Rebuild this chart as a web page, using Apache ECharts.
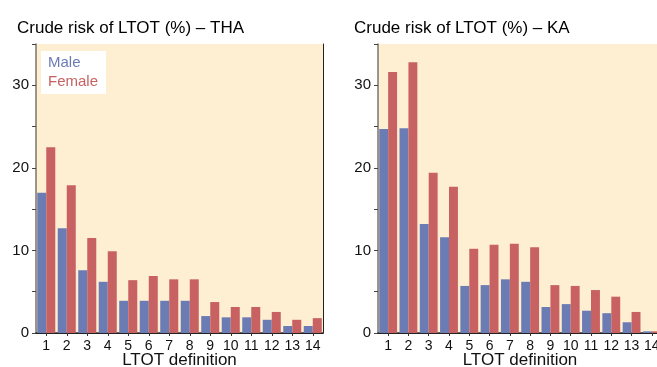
<!DOCTYPE html>
<html>
<head>
<meta charset="utf-8">
<script src="https://cdn.jsdelivr.net/npm/echarts@6/dist/echarts.min.js"></script>
<style>
html,body{margin:0;padding:0;background:#fff;}
#c{width:657px;height:367px;}
</style>
</head>
<body>
<div id="c"></div>
<script>
const categories = ['1','2','3','4','5','6','7','8','9','10','11','12','13','14'];
const thaMale   = [17, 12.7, 7.6, 6.2, 3.9, 3.9, 3.9, 3.9, 2.05, 1.9, 1.9, 1.6, 0.85, 0.85];
const thaFemale = [22.5, 17.9, 11.5, 9.9, 6.4, 6.9, 6.5, 6.5, 3.75, 3.15, 3.15, 2.55, 1.6, 1.8];
const kaMale    = [24.7, 24.8, 13.2, 11.6, 5.7, 5.8, 6.5, 6.2, 3.15, 3.5, 2.7, 2.4, 1.3, 0.2];
const kaFemale  = [31.6, 32.8, 19.4, 17.7, 10.2, 10.7, 10.8, 10.4, 5.8, 5.7, 5.2, 4.4, 2.55, 0.2];
const titles = ['Crude risk of LTOT (%) \u2013 THA', 'Crude risk of LTOT (%) \u2013 KA'];
const yTicks = [0, 10, 20, 30];

const MALE = '#6b7bb4', FEMALE = '#c86262', BG = '#feefd2';
const FONT = 'Liberation Sans, Arial, Helvetica, sans-serif';

const chart = echarts.init(document.getElementById('c'), null, {renderer:'canvas'});

const grids = [
  {left: 36, top: 44, width: 287, height: 289},
  {left: 378, top: 44, right: -5, height: 289}
];

function xAxisFor(i){
  return {
    type: 'category', gridIndex: i, data: categories,
    name: 'LTOT definition', nameLocation: 'middle', nameGap: 19, nameMoveOverlap: false,
    nameTextStyle: {fontFamily: FONT, fontSize: 17, color: '#111'},
    axisLine: {show: true, lineStyle: {color: '#333', width: 1.5}},
    axisTick: {show: true, alignWithLabel: true, length: 3, lineStyle: {color: '#333'}},
    axisLabel: {fontFamily: FONT, fontSize: 14, color: '#111', margin: 6, interval: 0},
    splitLine: {show: false}
  };
}
function xTopFor(i){
  return {type: 'category', gridIndex: i, data: categories, position: 'top',
    axisLine: {show: true, lineStyle: {color: '#222', width: 1}},
    axisTick: {show: false}, axisLabel: {show: false}, splitLine: {show: false}};
}
function yAxisFor(i){
  return {
    type: 'value', gridIndex: i, min: 0, max: 35, interval: 5,
    axisLine: {show: true, lineStyle: {color: '#7a7468', width: 1.5}},
    axisTick: {show: true, length: 4, lineStyle: {color: '#444'}},
    axisLabel: {fontFamily: FONT, fontSize: 15, color: '#111', margin: 7,
      formatter: v => yTicks.indexOf(v) >= 0 ? String(v) : ''},
    splitLine: {show: false}
  };
}
function yRightFor(i){
  return {type: 'value', gridIndex: i, min: 0, max: 35, interval: 5, position: 'right',
    axisLine: {show: true, lineStyle: {color: '#222', width: 1}},
    axisTick: {show: false}, axisLabel: {show: false}, splitLine: {show: false}};
}

function bar(name, data, color, idx){
  return {name, type: 'bar', data, xAxisIndex: idx, yAxisIndex: idx,
    itemStyle: {color}, barGap: '0%', barCategoryGap: '12%', animation: false};
}

chart.setOption({
  backgroundColor: '#fff',
  animation: false,
  title: [
    {text: titles[0], left: 12, top: 15, textStyle: {fontFamily: FONT, fontSize: 17, fontWeight: 'normal', color: '#000'}},
    {text: titles[1], left: 349, top: 15, textStyle: {fontFamily: FONT, fontSize: 17, fontWeight: 'normal', color: '#000'}}
  ],
  legend: {
    left: 41, top: 51, orient: 'vertical', icon: 'none', itemWidth: 0, itemHeight: 0, itemGap: 4,
    backgroundColor: '#fff', padding: [4, 8, 5, 2], selectedMode: false,
    data: [
      {name: 'Male', textStyle: {color: MALE}},
      {name: 'Female', textStyle: {color: FEMALE}}
    ],
    textStyle: {fontFamily: FONT, fontSize: 15}
  },
  grid: grids.map(g => Object.assign({show: true, backgroundColor: BG, borderWidth: 0, containLabel: false, outerBoundsMode: 'none'}, g)),
  xAxis: [xAxisFor(0), xAxisFor(1), xTopFor(0), xTopFor(1)],
  yAxis: [yAxisFor(0), yAxisFor(1), yRightFor(0), yRightFor(1)],
  series: [
    bar('Male', thaMale, MALE, 0),
    bar('Female', thaFemale, FEMALE, 0),
    bar('Male', kaMale, MALE, 1),
    bar('Female', kaFemale, FEMALE, 1)
  ]
});
</script>
</body>
</html>
